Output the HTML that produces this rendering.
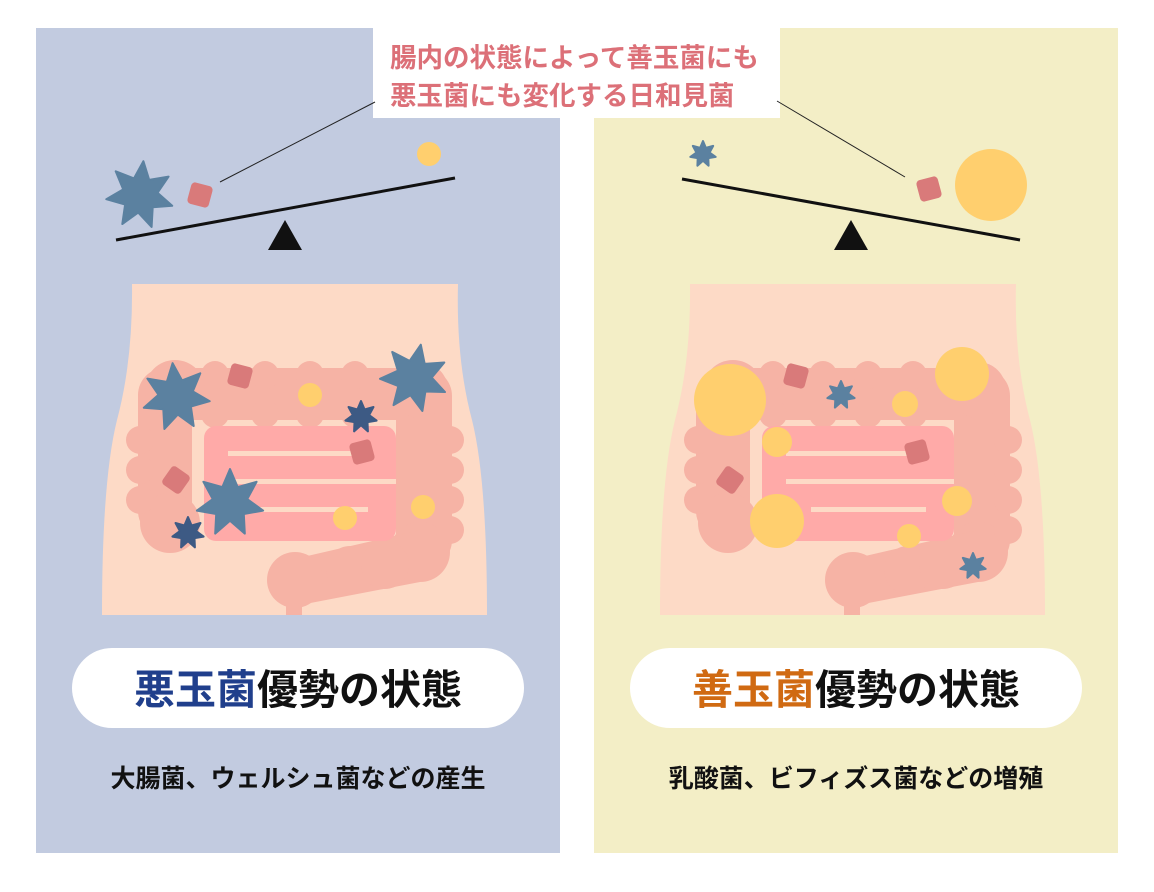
<!DOCTYPE html>
<html><head><meta charset="utf-8"><style>
html,body{margin:0;padding:0;background:#fff;width:1154px;height:892px;overflow:hidden}
svg{display:block}
text{font-family:"Liberation Sans","Noto Sans CJK JP",sans-serif;font-weight:bold}
</style></head><body>
<svg id="s" width="1154" height="892" viewBox="0 0 1154 892" xmlns="http://www.w3.org/2000/svg">
<defs>
<g id="gut">
<path d="M132 284 L458 284 Q456 360 472 420 Q487 480 487 615 L102 615 Q102 480 117 420 Q133 360 132 284 Z" fill="#fddac6"/>
<g fill="#f6b3a5">
<rect x="148" y="368" width="300" height="52" rx="26"/>
<rect x="138" y="368" width="54" height="170" rx="27"/>
<rect x="396" y="368" width="56" height="200" rx="28"/>
<circle cx="170" cy="523" r="30"/>
<circle cx="175" cy="390" r="30"/>
<circle cx="420" cy="390" r="28"/>
<circle cx="420" cy="552" r="30"/>
<path d="M420 530 L420 582 L300 605 L290 560 Z"/>
<circle cx="350" cy="570" r="24"/>
<circle cx="385" cy="565" r="24"/>
<circle cx="295" cy="580" r="28"/>
<rect x="286" y="590" width="16" height="25"/>
<circle cx="140" cy="440" r="14"/><circle cx="140" cy="470" r="14"/><circle cx="140" cy="500" r="14"/>
<circle cx="450" cy="440" r="14"/><circle cx="450" cy="470" r="14"/><circle cx="450" cy="500" r="14"/><circle cx="450" cy="530" r="14"/>
<circle cx="215" cy="375" r="14"/><circle cx="265" cy="375" r="14"/><circle cx="310" cy="375" r="14"/><circle cx="355" cy="375" r="14"/>
<circle cx="215" cy="414" r="14"/><circle cx="265" cy="414" r="14"/><circle cx="310" cy="414" r="14"/><circle cx="355" cy="414" r="14"/>
</g>
<rect x="204" y="426" width="192" height="115" rx="12" fill="#ffaaa8"/>
<rect x="228" y="451" width="126" height="5" fill="#fddac6"/>
<rect x="228" y="479" width="168" height="5" fill="#fddac6"/>
<rect x="253" y="507" width="115" height="5" fill="#fddac6"/>
</g>
</defs>
<rect x="36" y="28" width="524" height="825" fill="#c2cbe0"/>
<rect x="594" y="28" width="524" height="825" fill="#f3eec6"/>
<rect x="373" y="28" width="407" height="90" fill="#fff"/>
<text x="390" y="67" font-size="26.5" fill="#dc7078">腸内の状態によって善玉菌にも</text>
<text x="390" y="105" font-size="26.5" fill="#dc7078">悪玉菌にも変化する日和見菌</text>
<line x1="220" y1="182" x2="375" y2="102" stroke="#222" stroke-width="1"/>
<line x1="777" y1="101" x2="905" y2="177" stroke="#222" stroke-width="1"/>
<line x1="116" y1="240" x2="455" y2="178" stroke="#111" stroke-width="3"/>
<polygon points="285,220 268,250 302,250" fill="#111"/>
<line x1="682" y1="179" x2="1020" y2="240" stroke="#111" stroke-width="3"/>
<polygon points="851,220 834,250 868,250" fill="#111"/>
<circle cx="429" cy="154" r="12" fill="#ffcf6e"/>
<circle cx="991" cy="185" r="36" fill="#ffcf6e"/>
<use href="#gut"/>
<use href="#gut" transform="translate(558,0)"/>
<g id="dyn"></g>
<rect x="72" y="648" width="452" height="80" rx="40" fill="#fff"/>
<rect x="630" y="648" width="452" height="80" rx="40" fill="#fff"/>
<text x="298" y="704" font-size="41" text-anchor="middle" fill="#111"><tspan fill="#203f8c">悪玉菌</tspan>優勢の状態</text>
<text x="856" y="704" font-size="41" text-anchor="middle" fill="#111"><tspan fill="#d06a12">善玉菌</tspan>優勢の状態</text>
<text x="298" y="787" font-size="25" text-anchor="middle" fill="#111">大腸菌、ウェルシュ菌などの産生</text>
<text x="856" y="787" font-size="25" text-anchor="middle" fill="#111">乳酸菌、ビフィズス菌などの増殖</text>
</svg>
<script>
var g=document.getElementById('dyn'),NS='http://www.w3.org/2000/svg';
function star(cx,cy,r,c,rot){var p=[];for(var i=0;i<14;i++){var a=(rot||0)+i*Math.PI/7-Math.PI/2,rr=i%2?r*0.52:r;p.push((cx+rr*Math.cos(a)).toFixed(1)+','+(cy+rr*Math.sin(a)).toFixed(1));}
var e=document.createElementNS(NS,'polygon');e.setAttribute('points',p.join(' '));e.setAttribute('fill',c);e.setAttribute('stroke',c);e.setAttribute('stroke-linejoin','round');e.setAttribute('stroke-width','2');g.appendChild(e);}
function sq(cx,cy,rot){var e=document.createElementNS(NS,'rect');e.setAttribute('x',cx-11);e.setAttribute('y',cy-11);e.setAttribute('width',22);e.setAttribute('height',22);e.setAttribute('rx',4);e.setAttribute('fill','#d97a7a');e.setAttribute('transform','rotate('+rot+' '+cx+' '+cy+')');g.appendChild(e);}
function ci(cx,cy,r){var e=document.createElementNS(NS,'circle');e.setAttribute('cx',cx);e.setAttribute('cy',cy);e.setAttribute('r',r);e.setAttribute('fill','#ffcf6e');g.appendChild(e);}
var B='#5b81a0',D='#3d5a84';
star(140,195,34,B,0.1);star(176,397,34,B,-0.1);star(414,378,34,B,0.2);star(230,503,34,B,0);star(361,417,16,D,0);star(188,533,16,D,0);
sq(200,195,15);sq(240,376,15);sq(362,452,-15);sq(176,480,35);
ci(310,395,12);ci(423,507,12);ci(345,518,12);
star(703,154,13,B,0);star(841,395,14,B,0);star(973,566,13,B,0);
sq(929,189,-15);sq(796,376,15);sq(917,452,-15);sq(730,480,35);
ci(730,400,36);ci(962,374,27);ci(777,521,27);ci(777,442,15);ci(905,404,13);ci(957,501,15);ci(909,536,12);
</script>
</body></html>
